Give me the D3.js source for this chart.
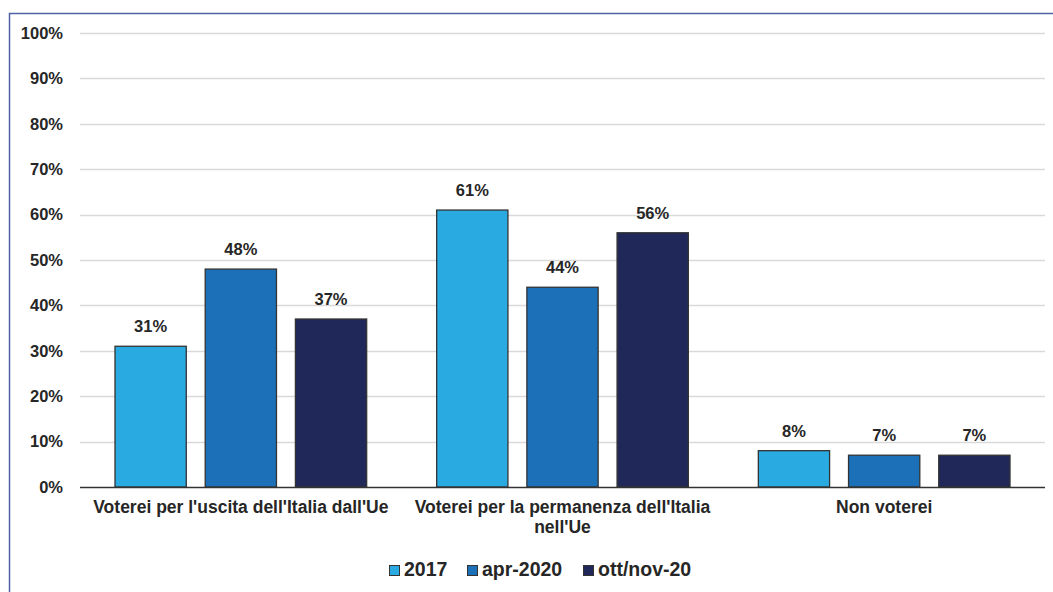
<!DOCTYPE html>
<html>
<head>
<meta charset="utf-8">
<script src="https://cdn.jsdelivr.net/npm/d3@7"></script>
<style>
  body { margin: 0; background: #fff; }
  text { font-family: "Liberation Sans", Arial, sans-serif; font-weight: bold; fill: #262626; }
</style>
</head>
<body>
<div id="canvas"></div>
<script>
const categories = [
  ["Voterei per l'uscita dell'Italia dall'Ue"],
  ["Voterei per la permanenza dell'Italia", "nell'Ue"],
  ["Non voterei"]
];
const seriesNames = ["2017", "apr-2020", "ott/nov-20"];
const values2017 = [31, 61, 8];
const valuesApr2020 = [48, 44, 7];
const valuesOttNov20 = [37, 56, 7];
const yTicks = [0, 10, 20, 30, 40, 50, 60, 70, 80, 90, 100];
const colors = ["#29abe2", "#1b70b8", "#1f2859"];

const canvas = d3.select("#canvas");
const width = 1053;
const height = 592;
const margin = { top: 33, left: 80, bottom: 105, right: 8 };
const iwidth = width - margin.left - margin.right;
const iheight = height - margin.top - margin.bottom;

const svg = canvas.append("svg").attr("width", width).attr("height", height);

// outer frame
svg.append("path")
  .attr("d", `M9.5,${height}V13.5H${width}`)
  .attr("fill", "none")
  .attr("stroke", "#4d62a8")
  .attr("stroke-width", 1.5);

const g = svg.append("g").attr("transform", `translate(${margin.left},${margin.top})`);

const x = d3.scaleBand().domain(d3.range(categories.length)).range([0, iwidth]).paddingInner(0).paddingOuter(0);
const x1 = d3.scaleBand().domain(d3.range(seriesNames.length)).range([35, x.bandwidth() - 35]).paddingInner(0.21);
const y = d3.scaleLinear().domain([0, 100]).range([iheight, 0]);

// gridlines
g.append("g")
  .selectAll("line")
  .data(yTicks.filter((d) => d > 0))
  .join("line")
  .attr("x1", 0)
  .attr("x2", iwidth)
  .attr("y1", (d) => Math.round(y(d)) + 0.5)
  .attr("y2", (d) => Math.round(y(d)) + 0.5)
  .attr("stroke", "#d9d9d9")
  .attr("stroke-width", 1.5);

// y axis labels
const yAxis = g.append("g").call(d3.axisLeft(y).tickValues(yTicks).tickFormat((d) => d + "%").tickSize(0).tickPadding(17));
yAxis.select(".domain").remove();
yAxis.selectAll("text")
  .style("font-size", "16.5px")
  .attr("fill", "#262626")
  .style("font-family", "Liberation Sans, Arial, sans-serif");

const series = [values2017, valuesApr2020, valuesOttNov20];
const rows = [];
series.forEach((vals, s) => vals.forEach((v, c) => rows.push({ s, c, v })));

g.selectAll("rect.bar")
  .data(rows)
  .join("rect")
  .attr("class", "bar")
  .attr("x", (d) => x(d.c) + x1(d.s))
  .attr("y", (d) => y(d.v))
  .attr("width", x1.bandwidth())
  .attr("height", (d) => iheight - y(d.v))
  .attr("fill", (d) => colors[d.s])
  .attr("stroke", "#333")
  .attr("stroke-width", 1.3);

g.selectAll("text.val")
  .data(rows)
  .join("text")
  .attr("class", "val")
  .attr("x", (d) => x(d.c) + x1(d.s) + x1.bandwidth() / 2)
  .attr("y", (d) => y(d.v) - 14)
  .attr("text-anchor", "middle")
  .style("font-size", "16.5px")
  .text((d) => d.v + "%");

// baseline
g.append("line")
  .attr("x1", 0)
  .attr("x2", iwidth)
  .attr("y1", iheight + 0.5)
  .attr("y2", iheight + 0.5)
  .attr("stroke", "#333")
  .attr("stroke-width", 1.3);

// category labels
const cat = g.selectAll("text.cat")
  .data(categories)
  .join("text")
  .attr("class", "cat")
  .attr("text-anchor", "middle")
  .style("font-size", "17.5px")
  .attr("transform", (d, i) => `translate(${x(i) + x.bandwidth() / 2},${iheight + 26})`);
cat.selectAll("tspan")
  .data((d) => d)
  .join("tspan")
  .attr("x", 0)
  .attr("dy", (d, i) => (i === 0 ? 0 : 20))
  .text((d) => d);

// legend
const legend = svg.append("g").attr("transform", `translate(0,576)`);
const legendX = [389, 467, 583];
seriesNames.forEach((name, i) => {
  legend.append("rect")
    .attr("x", legendX[i] + 0.5)
    .attr("y", -10.5)
    .attr("width", 10)
    .attr("height", 10)
    .attr("fill", colors[i])
    .attr("stroke", "#333")
    .attr("stroke-width", 1);
  legend.append("text")
    .attr("x", legendX[i] + 15)
    .attr("y", 0)
    .style("font-size", "19.5px")
    .text(name);
});
</script>
</body>
</html>
